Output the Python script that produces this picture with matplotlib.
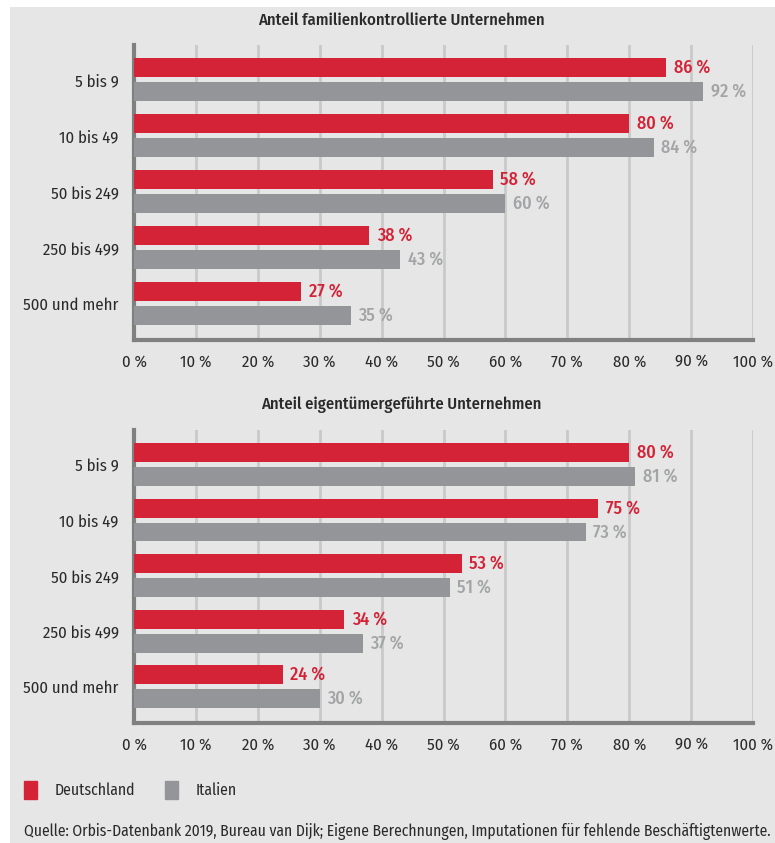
import matplotlib.pyplot as plt
import numpy as np
from matplotlib.patches import Patch

# Daten
groessen = ["5 bis 9", "10 bis 49", "50 bis 249", "250 bis 499", "500 und mehr"]
familie_de = [86, 80, 58, 38, 27]
familie_it = [92, 84, 60, 43, 35]
eigen_de = [80, 75, 53, 34, 24]
eigen_it = [81, 73, 51, 37, 30]
ticks = [0, 10, 20, 30, 40, 50, 60, 70, 80, 90, 100]
titel = ["Anteil familienkontrollierte Unternehmen",
         "Anteil eigentümergeführte Unternehmen"]

rot = "#d42236"
grau = "#939598"
grau_text = "#a3a4a6"
hinter = "#e6e6e6"
dunkel = "#2a2a2a"

plt.rcParams['font.family'] = ['Fira Sans Condensed', 'Roboto Condensed', 'Open Sans Condensed',
                               'Liberation Sans Narrow', 'DejaVu Sans']

fig = plt.figure(figsize=(7.75, 8.43), dpi=100)
fig.patch.set_facecolor("white")
# grauer Hintergrund
fig.patches.append(plt.Rectangle((10 / 775, 0), 1, 1 - 7 / 843, transform=fig.transFigure,
                                 facecolor=hinter, edgecolor="none", zorder=-1))

W, H = 775, 843
fs = 12


def panel(top, bottom, de, it, title, title_y):
    ax = fig.add_axes([134 / W, 1 - bottom / H, 619 / W, (bottom - top) / H])
    ax.set_facecolor(hinter)
    y = np.arange(len(groessen))
    h = 0.34
    off = 0.215
    ax.barh(y - off, de, height=h, color=rot, zorder=3)
    ax.barh(y + off, it, height=h, color=grau, zorder=3)
    for i in range(len(groessen)):
        ax.text(de[i] + 1.2, y[i] - off, f"{de[i]} %", color=rot, fontsize=13,
                fontweight="medium", va="center", ha="left")
        ax.text(it[i] + 1.2, y[i] + off, f"{it[i]} %", color=grau_text, fontsize=13,
                fontweight="medium", va="center", ha="left")
    ax.set_xlim(0, 100)
    ax.set_ylim(4.65, -0.62)
    ax.set_yticks(y)
    ax.set_yticklabels(groessen, fontsize=fs, color=dunkel)
    ax.set_xticks(ticks)
    ax.set_xticklabels([f"{t} %" for t in ticks], fontsize=fs, color=dunkel)
    ax.tick_params(length=0, pad=10)
    ax.tick_params(axis="y", pad=11)
    ax.grid(axis="x", color="#c9c9c9", linewidth=2, zorder=0)
    for s in ["top", "right"]:
        ax.spines[s].set_visible(False)
    for s in ["left", "bottom"]:
        ax.spines[s].set_color("#808080")
        ax.spines[s].set_linewidth(3)
    fig.text(401 / W, 1 - title_y / H, title, fontsize=fs, fontweight="medium",
             color=dunkel, ha="center", va="center")
    return ax


panel(45, 340, familie_de, familie_it, titel[0], 20)
panel(430, 723, eigen_de, eigen_it, titel[1], 405)

handles = [Patch(color=rot, label="Deutschland"), Patch(color=grau, label="Italien")]
fig.legend(handles=handles, loc="center left", bbox_to_anchor=(10 / W, 1 - 790 / H),
           ncol=2, frameon=False, fontsize=11.3, handlelength=0.85, handleheight=1.35,
           columnspacing=1.9, handletextpad=1.1, labelcolor=dunkel)

fig.text(24 / W, 1 - 832 / H,
         "Quelle: Orbis-Datenbank 2019, Bureau van Dijk; Eigene Berechnungen, Imputationen für fehlende Beschäftigtenwerte.",
         fontsize=11.2, color=dunkel, va="center", ha="left")

fig.savefig("out.png", dpi=100, facecolor=fig.get_facecolor())
